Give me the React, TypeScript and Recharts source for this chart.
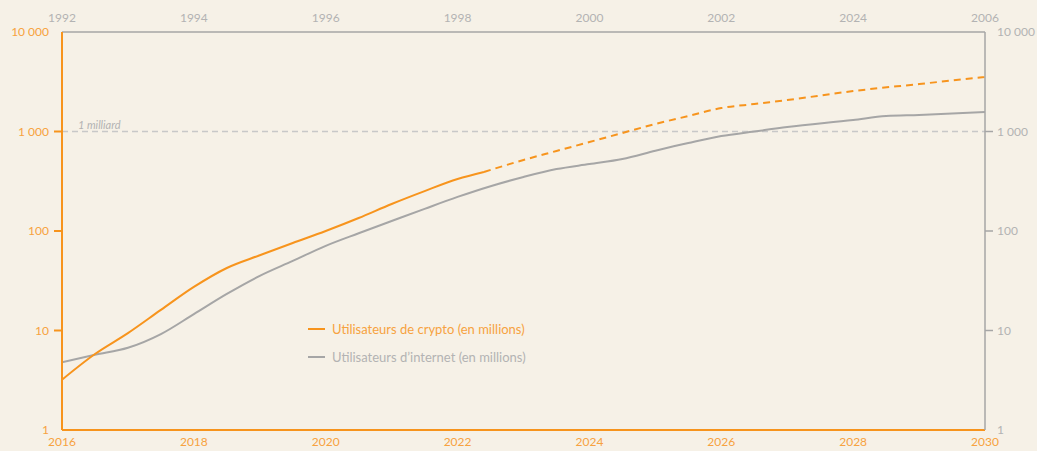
import React from 'react';
import { LineChart, Line, XAxis, YAxis, ReferenceLine } from 'recharts';

const ORANGE = '#F7941D';
const ORANGE_TEXT = '#F7A240';
const GRAY = '#A6A6A6';
const GRAY_TEXT = '#B3B3B3';
const BG = '#F6F1E7';
const FONT = 'Lato, "Open Sans", sans-serif';

const bottomTicks = [2016, 2018, 2020, 2022, 2024, 2026, 2028, 2030];
const topTickLabels = ['1992', '1994', '1996', '1998', '2000', '2002', '2024', '2006'];
const yTicks = [1, 10, 100, 1000, 10000];
const yTickLabels = ['1', '10', '100', '1 000', '10 000'];

const cryptoSolidYears = [2016, 2016.5, 2017, 2017.5, 2018, 2018.5, 2019, 2019.5, 2020, 2020.5, 2021, 2021.5, 2022, 2022.4];
const cryptoSolidValues = [3.2, 5.8, 9.4, 16.1, 27.4, 42.5, 57, 75.7, 100, 135, 187, 252, 333, 392];

const cryptoDashedYears = [2022.4, 2023, 2023.5, 2024, 2024.5, 2025, 2025.5, 2026, 2026.5, 2027, 2028, 2029, 2030];
const cryptoDashedValues = [392, 517, 637, 784, 966, 1190, 1430, 1720, 1890, 2070, 2550, 3000, 3530];

const internetYears = [2016, 2016.5, 2017, 2017.5, 2018, 2018.5, 2019, 2019.5, 2020, 2020.5, 2021, 2021.5, 2022, 2022.5, 2023, 2023.5, 2024, 2024.5, 2025, 2025.5, 2026, 2026.5, 2027, 2028, 2028.5, 2029, 2030];
const internetValues = [4.8, 5.7, 6.7, 9.2, 14.6, 23.3, 35.4, 50, 71, 95, 126, 167, 220, 282, 349, 419, 471, 530, 640, 765, 900, 1000, 1110, 1305, 1430, 1466, 1570];

const legendItems = [
  { label: 'Utilisateurs de crypto (en millions)', color: ORANGE, text: ORANGE_TEXT },
  { label: 'Utilisateurs d\u2019internet (en millions)', color: GRAY, text: GRAY_TEXT },
];

const toPoints = (xs: number[], ys: number[]) => xs.map((x, i) => ({ x, v: ys[i] }));
const cryptoSolid = toPoints(cryptoSolidYears, cryptoSolidValues);
const cryptoDashed = toPoints(cryptoDashedYears, cryptoDashedValues);
const internet = toPoints(internetYears, internetValues);

const yLabel = (v: number) => yTickLabels[yTicks.indexOf(v)] ?? String(v);
const showTick = (v: number) => v > 1 && v < 10000;

const LeftTick = (props: any) => {
  const { x, y, payload } = props;
  return (
    <g>
      {showTick(payload.value) && (
        <line x1={x + 5} x2={x + 13} y1={y} y2={y} stroke={ORANGE} strokeWidth={2} />
      )}
      <text x={x} y={y} dy="0.35em" textAnchor="end" fill={ORANGE_TEXT} fontSize={12} fontFamily={FONT}>
        {yLabel(payload.value)}
      </text>
    </g>
  );
};

const RightTick = (props: any) => {
  const { x, y, payload } = props;
  return (
    <g>
      {showTick(payload.value) && (
        <line x1={x - 12} x2={x - 4} y1={y} y2={y} stroke={GRAY} strokeWidth={1.5} />
      )}
      <text x={x} y={y} dy="0.35em" textAnchor="start" fill={GRAY_TEXT} fontSize={12} fontFamily={FONT}>
        {yLabel(payload.value)}
      </text>
    </g>
  );
};

const BottomTick = (props: any) => {
  const { x, y, payload } = props;
  return (
    <text x={x} y={y} dy="0.71em" textAnchor="middle" fill={ORANGE_TEXT} fontSize={12} fontFamily={FONT}>
      {payload.value}
    </text>
  );
};

const TopTick = (props: any) => {
  const { x, y, payload } = props;
  const idx = bottomTicks.indexOf(payload.value);
  return (
    <text x={x} y={y} textAnchor="middle" fill={GRAY_TEXT} fontSize={12} fontFamily={FONT}>
      {topTickLabels[idx]}
    </text>
  );
};

const LegendBox = () => (
  <div style={{ position: 'absolute', left: 308, top: 315, fontFamily: FONT, fontSize: 13 }}>
    {legendItems.map((it) => (
      <div key={it.label} style={{ display: 'flex', alignItems: 'center', height: 28 }}>
        <div style={{ width: 17, height: 2, background: it.color, marginRight: 7 }} />
        <span style={{ color: it.text }}>{it.label}</span>
      </div>
    ))}
  </div>
);

const MilliardLabel = (props: any) => {
  const { viewBox } = props;
  return (
    <text x={viewBox.x + 16} y={viewBox.y - 3} fill={GRAY_TEXT} fontSize={11} fontStyle="italic" fontFamily={FONT}>
      1 milliard
    </text>
  );
};

export default function App() {
  return (
    <div style={{ position: 'absolute', left: 0, top: 0, width: 1037, height: 451, background: BG }}>
      <LineChart width={1037} height={451} margin={{ top: 0, right: 0, bottom: 0, left: 0 }}>
        <XAxis
          xAxisId="bottom"
          dataKey="x"
          type="number"
          domain={[2016, 2030]}
          ticks={bottomTicks}
          orientation="bottom"
          height={21}
          axisLine={{ stroke: ORANGE, strokeWidth: 2 }}
          tickLine={false}
          tickSize={0}
          tickMargin={7}
          tick={<BottomTick />}
          interval={0}
          allowDataOverflow
        />
        <XAxis
          xAxisId="top"
          dataKey="x"
          type="number"
          domain={[2016, 2030]}
          ticks={bottomTicks}
          orientation="top"
          height={32}
          axisLine={{ stroke: GRAY, strokeWidth: 1.5 }}
          tickLine={false}
          tickSize={0}
          tickMargin={10}
          tick={<TopTick />}
          interval={0}
          allowDataOverflow
        />
        <YAxis
          yAxisId="left"
          orientation="left"
          scale="log"
          domain={[1, 10000]}
          ticks={yTicks}
          width={62}
          axisLine={{ stroke: ORANGE, strokeWidth: 2 }}
          tickLine={false}
          tickSize={0}
          tickMargin={13}
          tick={<LeftTick />}
          interval={0}
          allowDataOverflow
        />
        <YAxis
          yAxisId="right"
          orientation="right"
          scale="log"
          domain={[1, 10000]}
          ticks={yTicks}
          width={52}
          axisLine={{ stroke: GRAY, strokeWidth: 1.5 }}
          tickLine={false}
          tickSize={0}
          tickMargin={12}
          tick={<RightTick />}
          interval={0}
          allowDataOverflow
        />
        <ReferenceLine
          xAxisId="bottom"
          yAxisId="left"
          y={1000}
          stroke="#C8C8C8"
          strokeWidth={1.5}
          strokeDasharray="6 4"
          label={<MilliardLabel />}
        />
        <Line
          xAxisId="bottom"
          yAxisId="right"
          data={internet}
          dataKey="v"
          type="monotone"
          stroke={GRAY}
          strokeWidth={2}
          dot={false}
          isAnimationActive={false}
        />
        <Line
          xAxisId="bottom"
          yAxisId="left"
          data={cryptoSolid}
          dataKey="v"
          type="monotone"
          stroke={ORANGE}
          strokeWidth={2}
          dot={false}
          isAnimationActive={false}
        />
        <Line
          xAxisId="bottom"
          yAxisId="left"
          data={cryptoDashed}
          dataKey="v"
          type="monotone"
          stroke={ORANGE}
          strokeWidth={2}
          strokeDasharray="7 5"
          dot={false}
          isAnimationActive={false}
        />
      </LineChart>
      <LegendBox />
    </div>
  );
}
